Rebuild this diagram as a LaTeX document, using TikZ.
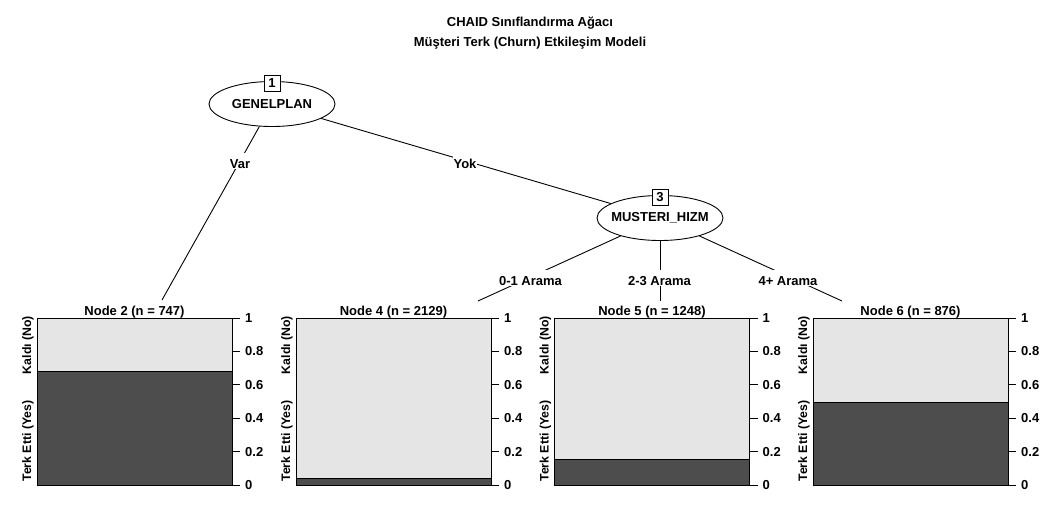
\documentclass[tikz,border=0pt]{standalone}
\usepackage{fontspec}
\setmainfont{Liberation Sans}
\usetikzlibrary{shapes.geometric}
\definecolor{lightbar}{HTML}{E5E5E5}
\definecolor{darkbar}{HTML}{4D4D4D}
\begin{document}
\begin{tikzpicture}[x=1pt,y=-1pt,
  every node/.style={font=\fontsize{13}{15}\selectfont\bfseries, inner sep=0pt},
  split/.style={draw, ellipse, line width=0.9pt, minimum width=126pt, minimum height=45pt, fill=white},
  idbox/.style={draw, line width=0.9pt, fill=white, minimum width=16pt, minimum height=16pt},
  edge/.style={draw, line width=0.9pt},
  elabel/.style={fill=white, inner xsep=1pt, inner ysep=1pt, text height=14pt, text depth=0pt, anchor=base},
  lightbox/.style={fill=lightbar, draw=black, line width=0.9pt},
  darkbox/.style={fill=darkbar, draw=black, line width=0.9pt},
  tick/.style={draw, line width=0.9pt},
  ylab/.style={rotate=90, anchor=base, font=\fontsize{12.3}{14}\selectfont\bfseries},
]
\useasboundingbox[fill=white] (0,0) rectangle (1061,520);
% titles
\node[anchor=base] (title1) at (530,26) {CHAID Sınıflandırma Ağacı};
\node[anchor=base] (title2) at (530,46) {Müşteri Terk (Churn) Etkileşim Modeli};
% inner nodes
\node[split] (e1) at (272,104) {\makebox[0pt]{GENELPLAN}};
\node[split] (e3) at (660,218) {\makebox[0pt]{MUSTERI\_HIZM}};
\coordinate (c2) at (162,300);
\coordinate (c4) at (478,301);
\coordinate (c5) at (660,301);
\coordinate (c6) at (842,301);
\draw[edge] (e1) -- (c2);
\draw[edge] (e1) -- (e3);
\draw[edge] (e3) -- (c4);
\draw[edge] (e3) -- (c5);
\draw[edge] (e3) -- (c6);
\node[idbox] (id1) at (272,83) {1};
\node[idbox] (id3) at (660,197) {3};
% edge labels
\node[elabel] (lvar) at (240,168) {Var};
\node[elabel] (lyok) at (465,168) {Yok};
\node[elabel] (l01) at (530.5,285) {0-1 Arama};
\node[elabel] (l23) at (659.5,285) {2-3 Arama};
\node[elabel] (l4p) at (788,285) {4+ Arama};
% terminal panels
\foreach \id/\L/\f/\n in {2/37/0.681/747, 4/296/0.040/2129, 5/554.5/0.154/1248, 6/813/0.495/876}{
  \pgfmathsetmacro\R{\L+195}
  \pgfmathsetmacro\C{\L+97.5}
  \pgfmathsetmacro\Y{485-167*\f}
  \draw[lightbox] (\L,318) rectangle (\R,485);
  \draw[darkbox] (\L,\Y) rectangle (\R,485);
  \node[anchor=base] (t\id) at (\C,315) {Node \id{} (n = \n)};
  \node[ylab] (k\id) at (\L-6,345) {Kaldı (No)};
  \node[ylab] (y\id) at (\L-6,441) {Terk Etti (Yes)};
  \foreach \t/\lab in {0/0, 0.2/0.2, 0.4/0.4, 0.6/0.6, 0.8/0.8, 1/1}{
    \pgfmathsetmacro\ty{485-167*\t}
    \draw[tick] (\R,\ty) -- (\R+8,\ty);
    \node[anchor=west] (a\id-\lab) at (\R+13,\ty) {\lab};
  }
}
\end{tikzpicture}
\end{document}
